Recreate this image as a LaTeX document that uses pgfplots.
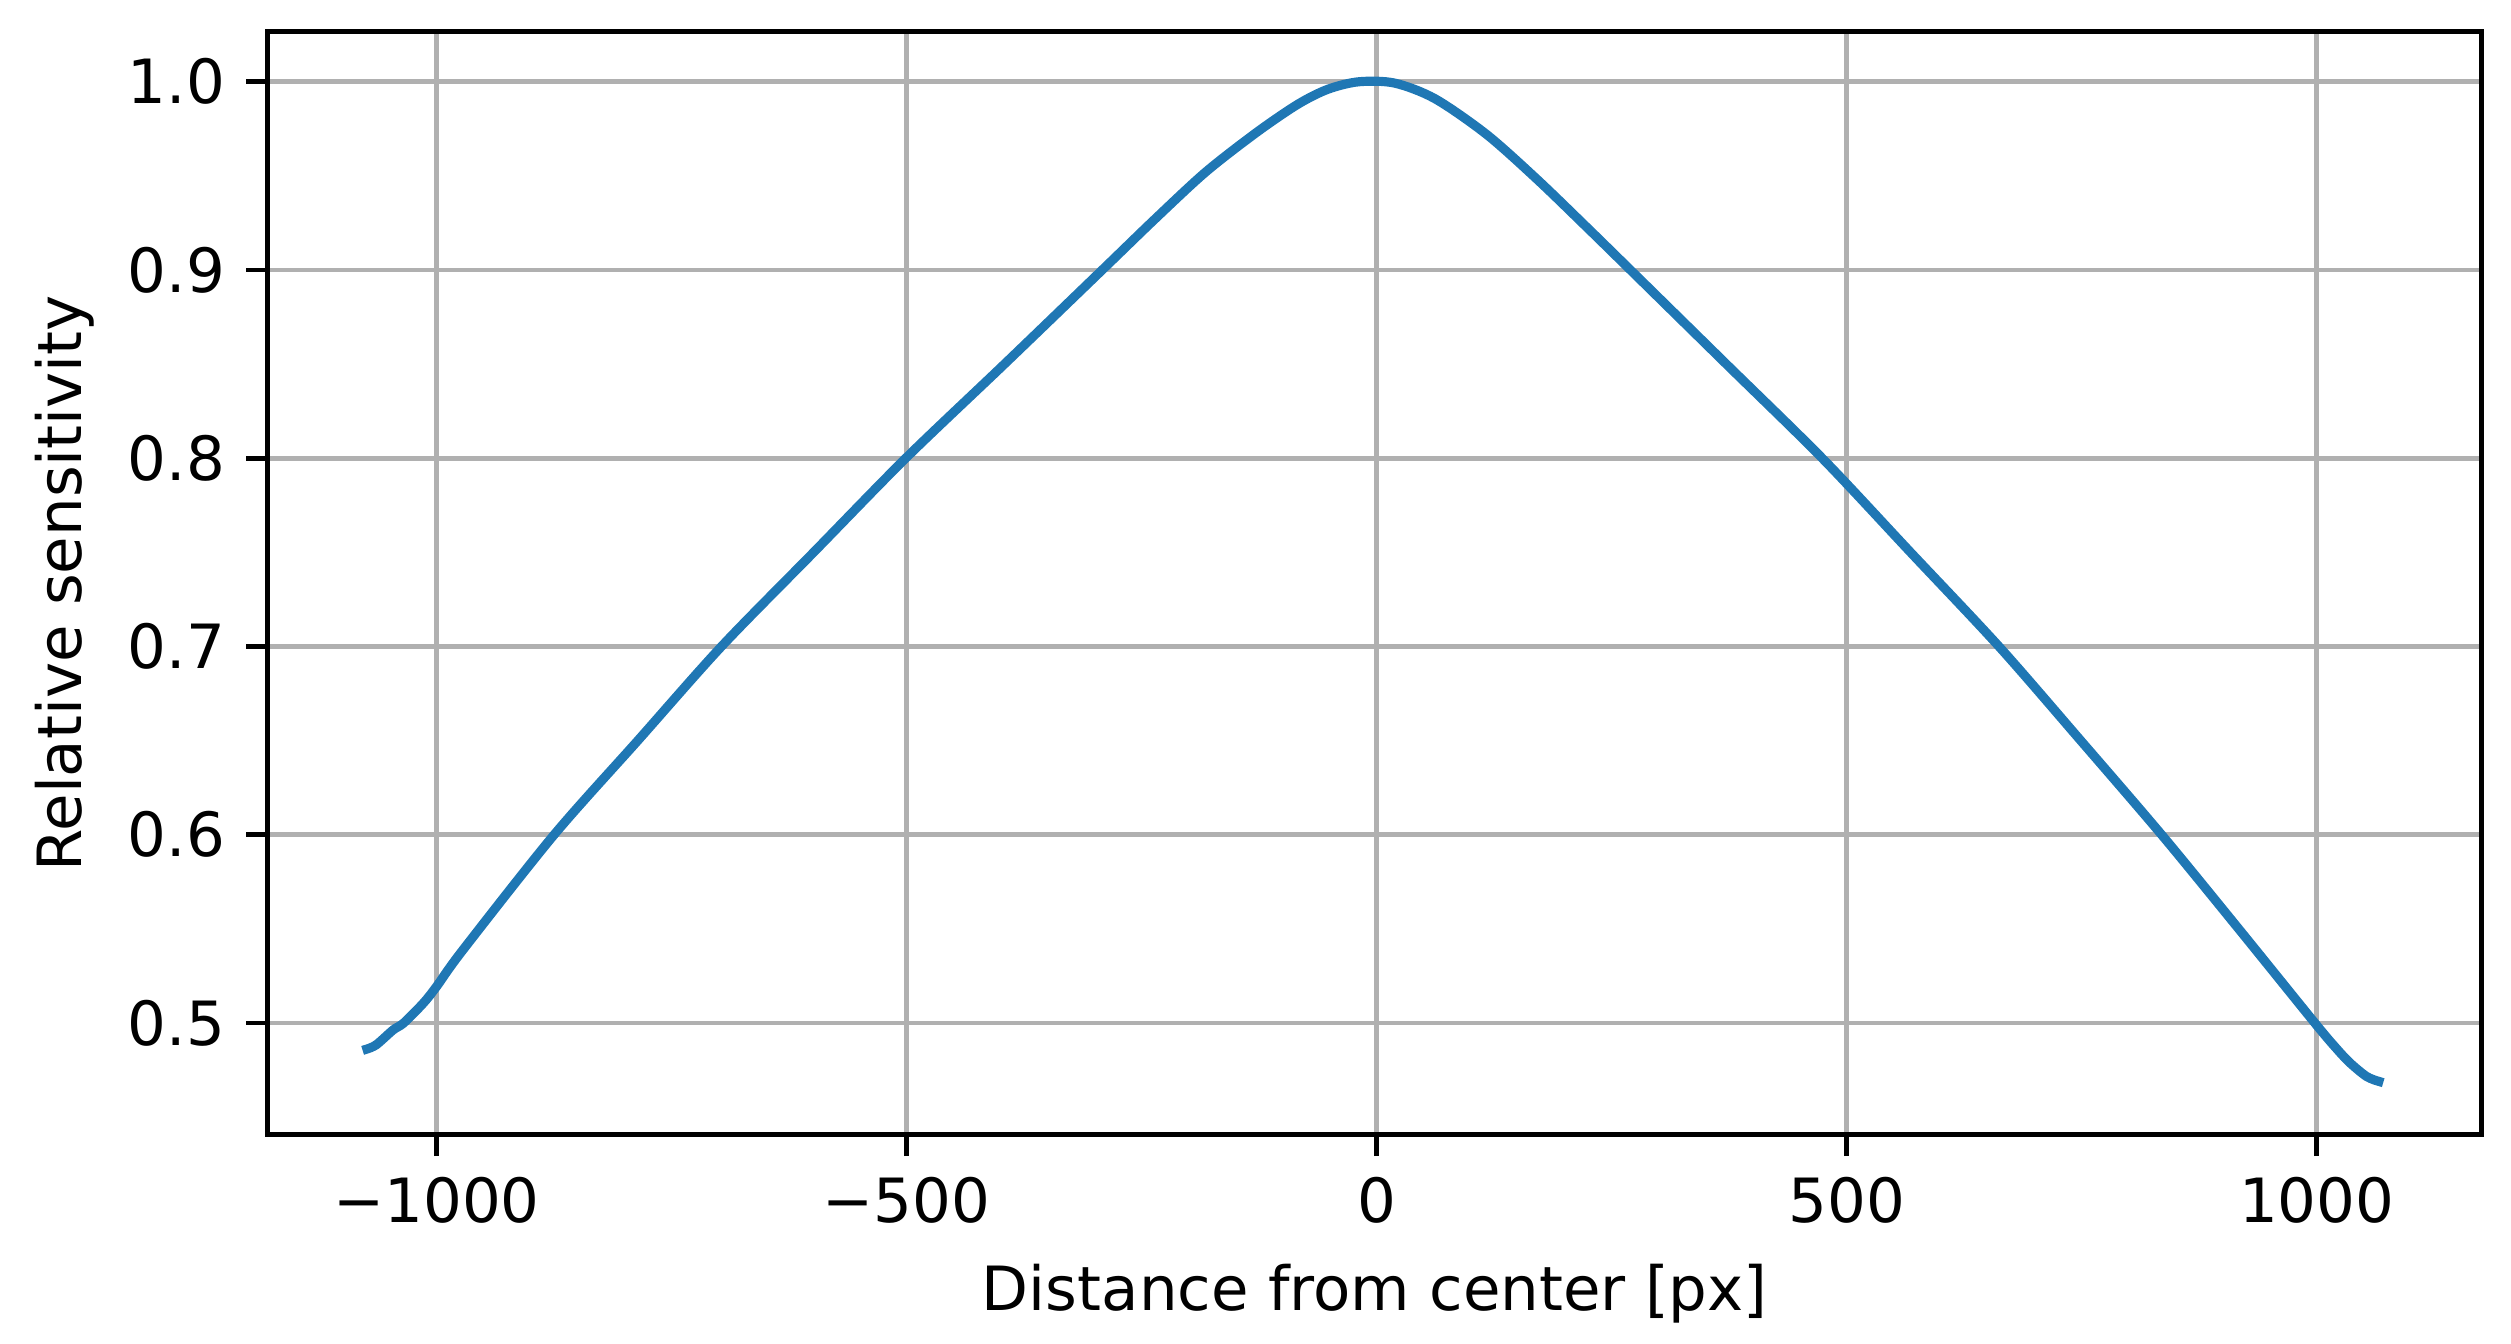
\documentclass[border=0pt]{standalone}
\usepackage{fontspec}
\setmainfont{DejaVu Sans}
\usepackage{pgfplots}
\pgfplotsset{compat=1.18}
\definecolor{mplblue}{HTML}{1F77B4}
\definecolor{mplgrid}{HTML}{B0B0B0}

\begin{document}
\begin{tikzpicture}
\begin{axis}[
  scale only axis,
  width=362.9pt, height=180.8pt,
  xmin=-1179.5, xmax=1175.5,
  ymin=0.4407, ymax=1.0266,
  xtick={-1000,-500,0,500,1000},
  xticklabels={−1000,−500,0,500,1000},
  ytick={0.5,0.6,0.7,0.8,0.9,1.0},
  yticklabels={0.5,0.6,0.7,0.8,0.9,1.0},
  tick pos=left,
  tick align=outside,
  major tick length=3.5pt,
  tick style={black, line width=0.8pt},
  axis line style={line width=0.8pt},
  grid=major,
  major grid style={mplgrid, line width=0.8pt},
  tick label style={font=\fontsize{10}{12}\selectfont},
  label style={font=\fontsize{10}{12}\selectfont},
  xlabel={Distance from center [px]},
  ylabel={Relative sensitivity},
  xlabel style={at={(axis description cs:0.5,-0.1595)}, anchor=base},
  ylabel style={at={(axis description cs:-0.0841,0.5)}, anchor=base},
]
  % sensitivity profile across the detector
  \addplot[mplblue, line width=1.5pt, line cap=rect, smooth] coordinates {
    (-1074,0.4862) (-1064,0.4885) (-1046,0.4964) (-1035,0.5000)
    (-1014,0.5106) (-1000,0.5194) (-972,0.5388) (-875,0.600)
    (-786,0.650) (-697,0.700) (-599,0.750) (-501,0.800)
    (-396,0.850) (-292,0.900) (-236,0.927) (-182,0.952)
    (-128,0.973) (-84,0.988) (-52,0.996) (-19,1.000)
    (19,0.9993) (62,0.991) (117,0.972) (171,0.948)
    (225,0.922) (270,0.900) (372,0.850) (474,0.800)
    (568,0.750) (662,0.700) (749,0.650) (835,0.600)
    (917,0.550) (998,0.500) (1020,0.487) (1035,0.479)
    (1053,0.4716) (1066,0.4690)
  };
\end{axis}
% page margins as in the original figure
\path (current axis.south west) ++(-43.9pt,-33.9pt)
  rectangle ([shift={(4.8pt,5.2pt)}]current axis.north east);
\end{tikzpicture}
\end{document}
